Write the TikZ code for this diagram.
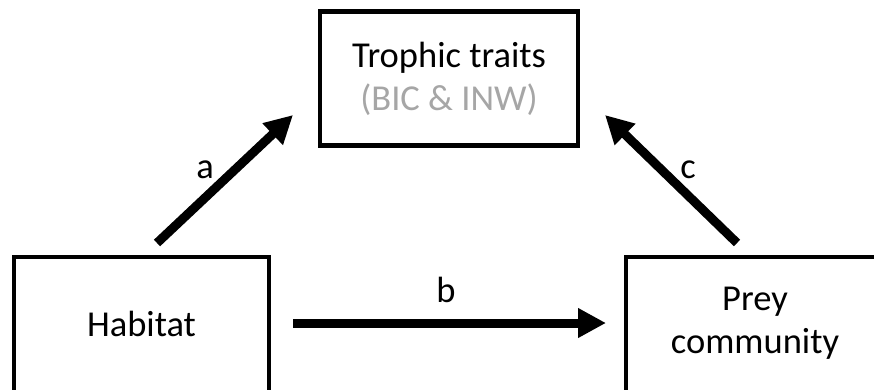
\documentclass[tikz,border=0pt]{standalone}
\usepackage{fontspec}
\setmainfont{Carlito}
\usetikzlibrary{arrows.meta}
\definecolor{lightgrey}{HTML}{A6A6A6}
\begin{document}
\begin{tikzpicture}[x=1pt,y=-1pt,
  box/.style={draw=black,line width=4.5pt,minimum width=258pt,minimum height=140pt,inner sep=0pt},
  txt/.style={inner sep=0pt,align=center,font=\fontsize{36.5}{43}\selectfont},
  lbl/.style={font=\fontsize{36.5}{43}\selectfont,inner sep=0pt},
  bigarrow/.style={line width=9pt,-{Triangle[length=28pt,width=28pt]}}]
\clip (0,0) rectangle (874,389);
\fill[white] (0,0) rectangle (874,389);
\node[box,minimum height=134pt] (troph) at (449,78.5) {};
\node[txt] (trophT) at (troph.center) {Trophic traits\\\textcolor{lightgrey}{(BIC \& INW)}};
\node[box,minimum width=255pt] (hab) at (141.5,327) {};
\node[txt] (habT) at (141.5,324) {Habitat};
\node[box] (prey) at (755,327) {};
\node[txt] (preyT) at (755,323) {Prey\\community};
\coordinate (aS) at (157,243);
\coordinate (aE) at (293,115);
\coordinate (cS) at (737,243);
\coordinate (cE) at (605,115);
\coordinate (bS) at (293,323);
\coordinate (bE) at (606,323);
\draw[bigarrow] (aS) -- (aE);
\draw[bigarrow] (cS) -- (cE);
\draw[bigarrow] (bS) -- (bE);
\node[lbl] (la) at (205,170) {a};
\node[lbl] (lc) at (688,170) {c};
\node[lbl] (lb) at (446,290) {b};
\end{tikzpicture}
\end{document}
